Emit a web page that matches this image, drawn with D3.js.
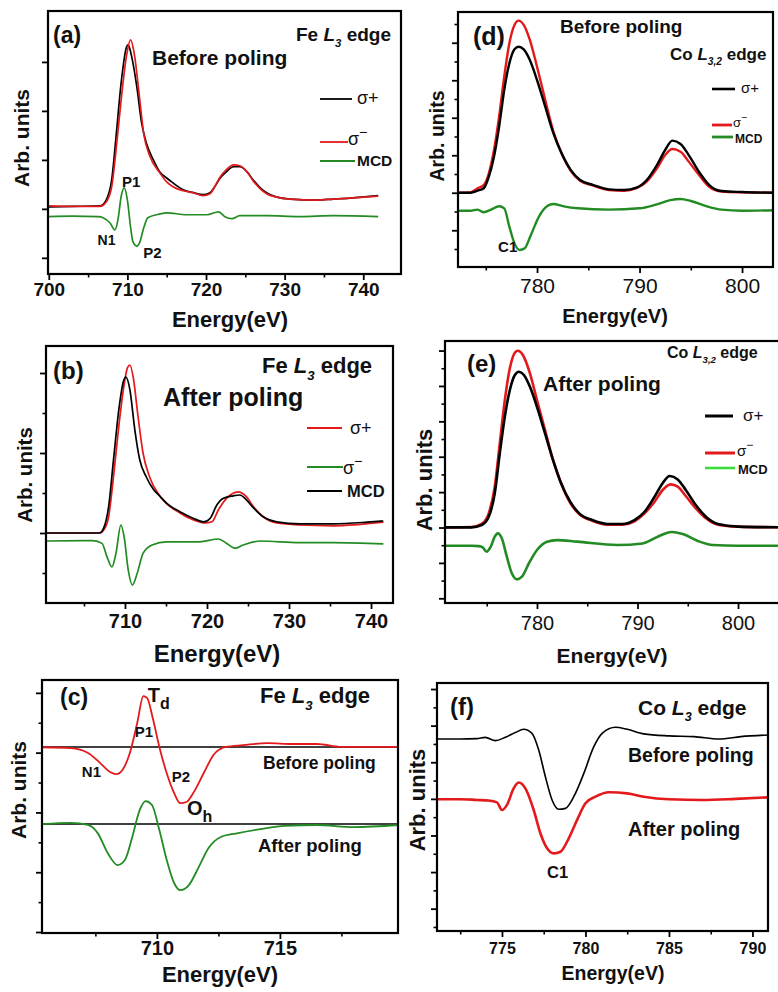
<!DOCTYPE html>
<html><head><meta charset="utf-8">
<script src="https://cdn.jsdelivr.net/npm/d3@7"></script>
<style>body{margin:0;background:#fff}svg{display:block}text{font-family:"Liberation Sans",Arial,sans-serif;fill:#111}</style>
</head><body><svg id="c" width="778" height="992"></svg>
<script>
// ---------- DATA (energy eV, arbitrary units) ----------
const aSigmaPlus = [[700,1.04],[703,1.05],[706.5,1.06],[707.3,1.18],[708.0,1.59],[708.6,2.55],[709.2,3.57],[709.9,4.31],[710.1,4.35],[710.5,4.14],[711.2,3.49],[711.8,2.76],[712.4,2.35],[713.3,2.0],[714.1,1.76],[715.0,1.63],[715.8,1.53],[717.1,1.39],[718.4,1.33],[719.6,1.29],[720.5,1.33],[721.1,1.45],[721.8,1.63],[722.6,1.76],[723.5,1.86],[724.3,1.86],[725.2,1.76],[726.0,1.59],[726.9,1.43],[727.7,1.33],[729.0,1.24],[730.7,1.20],[734.1,1.18],[736.2,1.20],[738.3,1.22],[741.9,1.27]];
const aSigmaMinus = [[700,1.06],[703,1.05],[706.5,1.05],[707.3,1.14],[708.0,1.45],[708.6,2.27],[709.2,3.22],[709.9,4.14],[710.4,4.45],[710.9,4.14],[711.5,3.33],[712.1,2.51],[712.8,2.10],[714.1,1.74],[715.0,1.55],[715.8,1.45],[717.1,1.37],[718.4,1.33],[719.6,1.27],[720.5,1.31],[721.1,1.45],[721.8,1.65],[722.6,1.80],[723.5,1.90],[724.3,1.88],[725.2,1.76],[726.0,1.57],[726.9,1.41],[727.7,1.31],[729.0,1.24],[730.7,1.20],[734.1,1.18],[736.2,1.20],[738.3,1.22],[741.9,1.26]];
const aMCD = [[700,0.84],[703,0.85],[706.3,0.84],[706.9,0.82],[707.8,0.71],[708.4,0.57],[708.8,0.78],[709.2,1.25],[709.6,1.43],[710.0,1.18],[710.4,0.63],[710.7,0.33],[711.2,0.24],[711.6,0.33],[712.0,0.57],[712.6,0.82],[713.7,0.88],[715.0,0.92],[717.5,0.88],[720.1,0.88],[721.6,0.94],[722.4,0.84],[723.3,0.80],[724.3,0.86],[727.7,0.86],[731.9,0.84],[736.2,0.86],[741.9,0.84]];

const bSigmaPlus = [[700.4,1.0],[706.9,1.0],[707.4,1.07],[708.0,1.40],[708.6,2.4],[709.2,3.58],[709.8,4.58],[710.3,5.13],[710.6,5.2],[711.0,4.9],[711.6,3.9],[712.2,3.0],[713.0,2.4],[714.3,1.91],[716.7,1.5],[718.3,1.33],[719.8,1.25],[720.6,1.28],[721.4,1.58],[722.4,1.87],[723.8,2.03],[724.8,1.91],[725.7,1.65],[726.9,1.40],[728.5,1.25],[731.3,1.2],[735.4,1.18],[741.5,1.27]];
const bSigmaMinus = [[700.4,0.8],[706.1,0.81],[707.2,0.74],[707.8,0.41],[708.4,0.15],[708.9,0.49],[709.5,1.2],[709.9,0.9],[710.4,0.07],[710.9,-0.3],[711.5,0.0],[712.2,0.49],[713.3,0.7],[715.1,0.78],[719.1,0.78],[721.4,0.85],[722.4,0.74],[723.4,0.62],[724.4,0.7],[726.5,0.8],[731.3,0.76],[735.4,0.76],[741.5,0.73]];
const bMCD = [[700.4,1.0],[706.9,1.0],[707.4,1.12],[708.0,1.65],[708.6,2.83],[709.2,4.0],[709.8,4.78],[710.1,4.9],[710.6,4.58],[711.2,3.58],[711.8,2.83],[712.6,2.40],[713.5,2.08],[714.3,1.91],[715.1,1.74],[716.7,1.53],[718.3,1.37],[719.6,1.28],[720.4,1.37],[721.2,1.70],[722.0,1.87],[723.2,1.93],[724.0,1.95],[724.8,1.83],[725.7,1.62],[726.9,1.40],[728.5,1.28],[731.3,1.23],[735.4,1.23],[739.5,1.27],[741.5,1.30]];

const cBefore = [[705.3,6.18],[706.5,6.15],[707.2,5.99],[707.7,5.65],[708.1,5.35],[708.35,5.28],[708.6,5.42],[708.9,5.99],[709.2,6.99],[709.45,7.89],[709.6,7.83],[709.85,7.09],[710.1,6.19],[710.4,5.31],[710.7,4.65],[710.95,4.31],[711.2,4.35],[711.5,4.68],[711.9,5.31],[712.3,5.92],[712.8,6.19],[713.5,6.25],[714.5,6.32],[715.5,6.29],[716.5,6.29],[717.5,6.19],[718.5,6.19],[719.8,6.19]];
const cAfter = [[705.3,3.61],[706.5,3.65],[707.2,3.58],[707.6,3.3],[708.0,2.64],[708.4,2.24],[708.7,2.41],[709.0,3.18],[709.3,4.08],[709.55,4.38],[709.8,4.25],[710.1,3.41],[710.4,2.41],[710.7,1.64],[710.95,1.4],[711.3,1.57],[711.7,2.17],[712.1,2.81],[712.6,3.18],[713.3,3.31],[714.2,3.44],[715.2,3.55],[716.5,3.58],[718,3.51],[719.8,3.58]];
const cBaselines = [6.19, 3.61];

const dSigmaPlus = [[772.3,3.0],[773.5,3.0],[774.2,3.11],[774.8,3.24],[775.3,3.86],[775.8,4.92],[776.3,6.52],[776.8,8.48],[777.3,9.9],[777.8,10.65],[778.2,10.79],[778.7,10.65],[779.3,10.08],[780.0,9.01],[780.8,7.59],[781.6,6.17],[782.4,5.1],[783.3,4.21],[784.2,3.68],[785.5,3.41],[787,3.18],[788.5,3.15],[789.7,3.27],[790.7,3.68],[791.7,4.48],[792.5,5.28],[793.2,5.78],[794.0,5.6],[794.8,5.01],[795.8,4.12],[796.8,3.41],[798,3.09],[800,3.04],[803,3.0]];
const dSigmaMinus = [[772.3,3.0],[773.5,3.02],[774.2,3.24],[774.8,3.41],[775.3,4.04],[775.8,5.28],[776.3,7.06],[776.8,9.19],[777.3,10.97],[777.8,11.95],[778.2,12.18],[778.7,11.95],[779.3,11.15],[780.0,9.72],[780.8,7.95],[781.6,6.26],[782.4,5.1],[783.3,4.16],[784.2,3.64],[785.5,3.38],[787,3.15],[788.5,3.11],[789.7,3.24],[790.7,3.59],[791.7,4.3],[792.5,5.01],[793.2,5.33],[794.0,5.19],[794.8,4.66],[795.8,3.95],[796.8,3.32],[798,3.06],[800,3.02],[803,3.0]];
const dMCD = [[772.3,2.04],[773.5,2.04],[774.2,2.1],[774.8,1.96],[775.5,2.1],[776.3,2.28],[776.8,2.17],[777.3,1.19],[777.8,0.3],[778.3,-0.05],[778.8,0.04],[779.4,0.75],[780.2,1.74],[781,2.29],[781.6,2.4],[782.5,2.29],[784,2.17],[787,2.1],[790,2.17],[791.5,2.35],[793,2.61],[794,2.67],[795,2.56],[796.5,2.29],[798,2.1],[800,2.04],[803,2.07]];

const eSigmaPlus = [[770.9,4.01],[773.5,4.01],[774.5,4.14],[775.2,4.61],[775.8,5.93],[776.3,8.19],[776.8,10.26],[777.3,11.77],[777.8,12.62],[778.2,12.8],[778.7,12.62],[779.3,11.95],[780,10.82],[780.8,9.32],[781.6,7.81],[782.4,6.5],[783.3,5.46],[784.2,4.8],[785.5,4.42],[787,4.2],[788.5,4.2],[789.7,4.42],[790.7,4.89],[791.7,5.74],[792.5,6.5],[793.2,6.91],[794.0,6.72],[794.8,6.12],[795.8,5.27],[796.8,4.61],[798,4.2],[800,4.05],[805,4.01]];
const eSigmaMinus = [[770.9,4.01],[773.5,4.03],[774.5,4.2],[775.2,4.8],[775.8,6.31],[776.3,8.76],[776.8,11.2],[777.3,13.0],[777.8,13.88],[778.1,13.99],[778.6,13.75],[779.3,12.71],[780,11.2],[780.8,9.51],[781.6,7.81],[782.4,6.5],[783.3,5.4],[784.2,4.76],[785.5,4.38],[787,4.16],[788.5,4.16],[789.7,4.35],[790.7,4.8],[791.7,5.46],[792.5,6.12],[793.3,6.44],[794.0,6.31],[794.8,5.78],[795.8,5.08],[796.8,4.52],[798,4.16],[800,4.05],[805,4.01]];
const eMCD = [[770.9,2.97],[773.5,2.97],[774.2,2.95],[774.6,2.88],[775.0,2.63],[775.4,2.92],[775.8,3.48],[776.1,3.67],[776.5,3.39],[777.0,2.35],[777.5,1.41],[778.0,1.07],[778.5,1.22],[779.2,1.98],[780,2.73],[781,3.2],[782,3.29],[784,3.2],[788,3.01],[790.5,3.1],[792,3.48],[793.4,3.75],[794.5,3.63],[796,3.24],[797.5,3.01],[800,2.97],[805,2.97]];

const fBefore = [[771.1,10.27],[772.5,10.27],[773.5,10.29],[774.0,10.36],[774.6,10.18],[775.2,10.36],[775.8,10.62],[776.3,10.8],[776.8,10.58],[777.2,9.67],[777.6,8.21],[778.0,6.94],[778.4,6.43],[778.8,6.48],[779.3,7.12],[779.9,8.39],[780.5,9.85],[781.0,10.58],[781.8,10.91],[782.5,10.8],[783.5,10.55],[785,10.44],[786.5,10.40],[788,10.27],[789.3,10.40],[790.9,10.49]];
const fAfter = [[771.1,6.98],[772.5,6.98],[773.5,6.94],[774.2,6.91],[774.7,6.81],[775.0,6.39],[775.3,6.67],[775.7,7.57],[776.0,7.89],[776.4,7.57],[776.9,6.39],[777.3,5.12],[777.7,4.3],[778.1,4.02],[778.5,4.11],[779.0,4.84],[779.5,5.85],[780.0,6.76],[780.6,7.12],[781.4,7.36],[782.5,7.30],[783.5,7.12],[785,6.98],[787,6.94],[789,7.0],[790.9,7.08]];

// tick values
const aXTicks = [700,710,720,730,740], aXMinor = [705,715,725,735];
const bXTicks = [710,720,730,740], bXMinor = [705,715,725,735];
const cXTicks = [710,715], cXMinor = [707.5,712.5,717.5];
const dXTicks = [780,790,800], dXMinor = [775,785,795];
const eXTicks = [780,790,800], eXMinor = [775,785,795];
const fXTicks = [775,780,785,790], fXMinor = [772.5,777.5,782.5,787.5];

// ---------- DRAWING ----------
const svg = d3.select('#c');
const RED = '#e3191c', GREEN = '#238b23', BLACK = '#000';

function panel(o){
  const x = d3.scaleLinear().domain(o.xd).range([o.l,o.r]);
  const y = d3.scaleLinear().domain(o.yd).range([o.b,o.t]);
  const g = svg.append('g');
  const cid = 'clip'+o.id;
  svg.append('clipPath').attr('id',cid).append('rect')
     .attr('x',o.l).attr('y',o.t).attr('width',o.r-o.l).attr('height',o.b-o.t);
  g.append('g').attr('transform',`translate(0,${o.b})`)
    .call(d3.axisBottom(x).tickValues(o.xMinor).tickSize(3.5).tickFormat(''))
    .call(s=>{s.select('.domain').remove(); s.selectAll('line').attr('stroke-width',1.6);});
  g.append('g').attr('transform',`translate(0,${o.b})`)
    .call(d3.axisBottom(x).tickValues(o.xMajor).tickSize(6).tickFormat(d3.format('d')))
    .call(s=>{s.select('.domain').remove(); s.selectAll('line').attr('stroke-width',1.8);
      s.selectAll('text').attr('y',o.tlY).attr('dy',null).attr('font-size',o.tlSize)
       .attr('font-weight',o.tlWeight).attr('fill','#111')
       .attr('font-family','"Liberation Sans",Arial,sans-serif');});
  g.append('g').attr('transform',`translate(${o.l},0)`)
    .call(d3.axisLeft(y).tickValues(o.yMinor).tickSize(3.5).tickFormat(''))
    .call(s=>{s.select('.domain').remove(); s.selectAll('line').attr('stroke-width',1.6);});
  g.append('g').attr('transform',`translate(${o.l},0)`)
    .call(d3.axisLeft(y).tickValues(o.yMajor).tickSize(6).tickFormat(''))
    .call(s=>{s.select('.domain').remove(); s.selectAll('line').attr('stroke-width',1.8);});
  const line = d3.line().x(d=>x(d[0])).y(d=>y(d[1])).curve(d3.curveMonotoneX);
  const cg = g.append('g').attr('clip-path',`url(#${cid})`);
  (o.hlines||[]).forEach(v=>{
    cg.append('line').attr('x1',o.l).attr('x2',o.r).attr('y1',y(v)).attr('y2',y(v))
      .attr('stroke','#000').attr('stroke-width',1.5);
  });
  o.series.forEach(s=>{
    cg.append('path').datum(s.data).attr('d',line).attr('fill','none')
      .attr('stroke',s.color).attr('stroke-width',s.w).attr('stroke-linejoin','round');
  });
  g.append('rect').attr('x',o.l).attr('y',o.t).attr('width',o.r-o.l).attr('height',o.b-o.t)
    .attr('fill','none').attr('stroke','#000').attr('stroke-width',2.2);
  svg.append('text').attr('x',o.xtX).attr('y',o.xtY).attr('text-anchor','middle')
    .attr('font-size',o.xtSize).attr('font-weight','bold').text('Energy(eV)');
  svg.append('text').attr('transform',`translate(${o.ytX},${o.ytY}) rotate(-90)`)
    .attr('text-anchor','middle').attr('font-size',o.ytSize).attr('font-weight','bold').text('Arb. units');
  return {x,y};
}

function txt(x,y,size,s,weight){
  return svg.append('text').attr('x',x).attr('y',y).attr('font-size',size)
    .attr('font-weight',weight||'bold').text(s);
}
function edgeText(x,y,size,el,sub){
  const t = svg.append('text').attr('x',x).attr('y',y).attr('font-size',size).attr('font-weight','bold');
  t.append('tspan').text(el+' ');
  t.append('tspan').attr('font-style','italic').text('L');
  t.append('tspan').attr('font-style','italic').attr('font-size',size*0.6).attr('dy',size*0.3).text(sub);
  t.append('tspan').attr('dy',-size*0.3).text(' edge');
}
function subText(x,y,size,main,sub){
  const t = svg.append('text').attr('x',x).attr('y',y).attr('font-size',size).attr('font-weight','bold');
  t.append('tspan').text(main);
  t.append('tspan').attr('font-size',size*0.8).attr('dy',size*0.35).text(sub);
}
function legend(items){
  items.forEach(it=>{
    svg.append('line').attr('x1',it.x1).attr('x2',it.x2).attr('y1',it.y).attr('y2',it.y)
      .attr('stroke',it.color).attr('stroke-width',it.w);
    const t = svg.append('text').attr('x',it.tx).attr('y',it.ty).attr('font-size',it.size);
    if(it.label==='MCD'){ t.attr('font-weight','bold').text('MCD'); }
    else if(it.label==='+'){ t.text('σ+'); }
    else { t.append('tspan').text('σ'); t.append('tspan').attr('font-size',it.size*0.8).attr('dy',-it.size*0.45).text('−'); }
  });
}

// (a)
const A = panel({id:'a', l:48, r:401, t:11, b:274, xd:[699.9,744.8], yd:[-0.33,5.04],
  xMajor:aXTicks, xMinor:aXMinor, yMajor:[0,1,2,3,4], yMinor:[],
  tlY:22, tlSize:19, tlWeight:'bold', xtX:230, xtY:327, xtSize:22, ytX:29, ytY:138, ytSize:21,
  series:[{data:aSigmaPlus,color:BLACK,w:1.7},{data:aSigmaMinus,color:RED,w:1.7},{data:aMCD,color:GREEN,w:1.7}]});
txt(53,43,23,'(a)'); edgeText(296,41,19,'Fe','3'); txt(152,65,21,'Before poling');
txt(A.x(709.3),A.y(1.45),15,'P1'); txt(A.x(706.2),A.y(0.27),14,'N1'); txt(A.x(712.0),A.y(0.0),15,'P2');
legend([{x1:320,x2:352,y:99,color:BLACK,w:1.8,tx:357,ty:104,size:18,label:'+'},
        {x1:320,x2:348,y:142,color:RED,w:1.8,tx:348,ty:145,size:18,label:'-'},
        {x1:320,x2:355,y:161,color:GREEN,w:1.8,tx:357,ty:166,size:15.5,label:'MCD'}]);

// (b)
const B = panel({id:'b', l:46, r:393, t:346, b:603, xd:[700.37,742.68], yd:[-0.75,5.675],
  xMajor:bXTicks, xMinor:bXMinor, yMajor:[1,3,5], yMinor:[0,2,4],
  tlY:25, tlSize:20, tlWeight:'bold', xtX:217, xtY:662, xtSize:24, ytX:32, ytY:475, ytSize:20.5,
  series:[{data:bSigmaPlus,color:RED,w:1.7},{data:bMCD,color:BLACK,w:1.7},{data:bSigmaMinus,color:GREEN,w:1.7}]});
txt(53,379,24,'(b)'); edgeText(262,373,22,'Fe','3'); txt(163,406,25,'After poling');
legend([{x1:307,x2:342,y:428,color:RED,w:1.8,tx:350,ty:434,size:18,label:'+'},
        {x1:307,x2:343,y:467,color:GREEN,w:1.8,tx:343,ty:474,size:18,label:'-'},
        {x1:307,x2:342,y:491,color:BLACK,w:1.8,tx:347,ty:497,size:16.5,label:'MCD'}]);

// (c)
const C = panel({id:'c', l:42, r:398, t:680, b:933, xd:[705.33,719.80], yd:[-0.033,8.43],
  xMajor:cXTicks, xMinor:cXMinor, yMajor:[0,2,4,6,8], yMinor:[1,3,5,7],
  tlY:22, tlSize:20, tlWeight:'bold', xtX:220, xtY:982, xtSize:22, ytX:26, ytY:790, ytSize:21,
  hlines:cBaselines,
  series:[{data:cBefore,color:RED,w:1.8},{data:cAfter,color:GREEN,w:1.8}]});
txt(60,705,23,'(c)'); edgeText(260,703,22,'Fe','3');
txt(263,769,17.5,'Before poling'); txt(258,852,18.5,'After poling');
subText(C.x(709.63),C.y(7.69),20,'T','d'); txt(C.x(709.1),C.y(6.52),15,'P1');
txt(C.x(706.95),C.y(5.18),15,'N1'); txt(C.x(710.6),C.y(5.02),15,'P2');
subText(C.x(711.22),C.y(3.91),20,'O','h');

// (d)
const D = panel({id:'d', l:458, r:773, t:12, b:267, xd:[772.29,803.02], yd:[-0.96,12.64],
  xMajor:dXTicks, xMinor:dXMinor, yMajor:[1,3,5,7,9,11], yMinor:[0,2,4,6,8,10,12],
  tlY:26, tlSize:21, tlWeight:'normal', xtX:615, xtY:323, xtSize:20, ytX:444, ytY:136, ytSize:19.5,
  series:[{data:dSigmaMinus,color:RED,w:2.4},{data:dSigmaPlus,color:BLACK,w:2.4},{data:dMCD,color:GREEN,w:2.4}]});
txt(473,45,25,'(d)'); txt(560,33,19,'Before poling'); edgeText(670,60,17,'Co','3,2');
txt(D.x(776.2),D.y(-0.16),15,'C1');
legend([{x1:712,x2:735,y:89,color:BLACK,w:2.6,tx:741,ty:93,size:15,label:'+'},
        {x1:712,x2:732,y:125,color:RED,w:2.8,tx:733,ty:127,size:13,label:'-'},
        {x1:712,x2:733,y:137,color:GREEN,w:2.8,tx:735,ty:143,size:12,label:'MCD'}]);

// (e)
const E = panel({id:'e', l:445, r:790, t:341, b:603, xd:[770.85,805.17], yd:[-0.266,14.54],
  xMajor:eXTicks, xMinor:eXMinor, yMajor:[0,2,4,6,8,10,12,14], yMinor:[1,3,5,7,9,11,13],
  tlY:27, tlSize:20, tlWeight:'normal', xtX:612, xtY:663, xtSize:21, ytX:432, ytY:480, ytSize:22,
  series:[{data:eSigmaMinus,color:RED,w:2.6},{data:eSigmaPlus,color:BLACK,w:2.6},{data:eMCD,color:GREEN,w:2.6}]});
txt(467,372,24,'(e)'); edgeText(667,358,16,'Co','3,2'); txt(543,391,21,'After poling');
legend([{x1:705,x2:733,y:416,color:BLACK,w:3,tx:743,ty:421,size:17,label:'+'},
        {x1:705,x2:735,y:453,color:RED,w:3,tx:737,ty:456,size:15,label:'-'},
        {x1:705,x2:735,y:468,color:'#3bdc3b',w:2.6,tx:738,ty:474,size:13,label:'MCD'}]);

// (f)
const F = panel({id:'f', l:437, r:768, t:683, b:931, xd:[771.11,790.93], yd:[-0.22,13.33],
  xMajor:fXTicks, xMinor:fXMinor, yMajor:[1,3,5,7,9,11,13], yMinor:[0,2,4,6,8,10,12],
  tlY:23, tlSize:16, tlWeight:'bold', xtX:613, xtY:980, xtSize:19.5, ytX:425, ytY:800, ytSize:22,
  series:[{data:fBefore,color:BLACK,w:1.6},{data:fAfter,color:RED,w:2.6}]});
txt(450,715,24,'(f)'); edgeText(638,715,21,'Co','3');
txt(628,762,19.5,'Before poling'); txt(628,836,20,'After poling');
txt(F.x(777.7),F.y(2.68),16.5,'C1');
</script></body></html>
